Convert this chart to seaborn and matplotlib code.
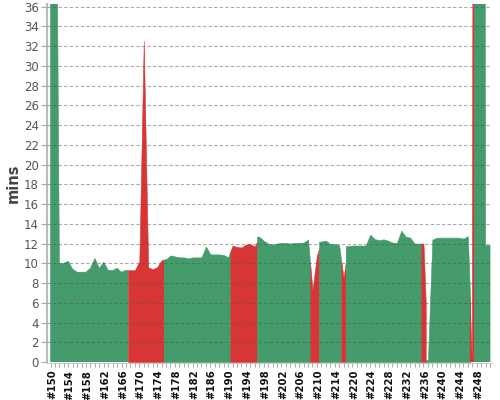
import numpy as np
import pandas as pd
import seaborn as sns
import matplotlib
matplotlib.use("Agg")
import matplotlib.pyplot as plt
import matplotlib.transforms as mtransforms
from matplotlib.ticker import FixedLocator, MultipleLocator

sns.set_theme(style="white")
plt.rcParams['font.family'] = ['DejaVu Sans']

# ---- data ----
builds = (list(range(150, 216)) + [217, 219] + list(range(220, 252)))
minutes = [
    300, 75, 10.0, 10.0, 10.2, 9.4, 9.1, 9.1, 9.1, 9.5,           # 150-159
    10.5, 9.5, 10.1, 9.3, 9.27, 9.5, 9.1, 9.3, 9.3, 9.3,          # 160-169
    10.2, 32.5, 9.6, 9.4, 9.6, 10.3, 10.4, 10.8, 10.7, 10.6,      # 170-179
    10.6, 10.5, 10.6, 10.6, 10.6, 11.7, 10.9, 10.9, 10.9, 10.85,  # 180-189
    10.6, 11.8, 11.65, 11.6, 11.9, 11.95, 11.7, 12.7, 12.3, 12.0,  # 190-199
    11.9, 12.0, 12.07, 12.07, 12.0, 12.07, 12.07, 12.1, 12.4, 7.3,  # 200-209
    10.8, 12.2, 12.3, 11.95, 11.95, 11.85,                        # 210-215
    8.5, 11.75,                                                   # 217, 219
    11.8, 11.8, 11.8, 11.8, 12.9, 12.45, 12.35, 12.43, 12.3, 12.1,  # 220-229
    12.07, 13.3, 12.7, 12.6, 12.0, 12.0, 12.0, 0.2, 12.4, 12.6,   # 230-239
    12.6, 12.6, 12.6, 12.6, 12.6, 12.5, 12.75, 0.2, 300, 400,     # 240-249
    11.8, 11.8,                                                   # 250-251
]
failed_builds = [168, 169, 170, 171, 172, 173, 174, 175,
                 191, 192, 193, 194, 195, 196,
                 209, 210, 217, 236, 247]
y_ticks = list(range(0, 37, 2))

GREEN = "#449b6b"
RED = "#d83536"

df = pd.DataFrame({"build": builds, "mins": minutes})
df["pos"] = np.arange(len(df))
df["failed"] = df["build"].isin(failed_builds)
df["label"] = "#" + df["build"].astype(str)

# ---- figure ----
fig = plt.figure(figsize=(5, 4), dpi=100)
ax = fig.add_axes([47 / 500, 38 / 400, 444.5 / 500, 358 / 400])

sns.lineplot(data=df, x="pos", y="mins", ax=ax, color=GREEN,
             linewidth=0, legend=False)

x = df["pos"].to_numpy(dtype=float)
v = df["mins"].to_numpy(dtype=float)
f = df["failed"].to_numpy()
n = len(x)

runs = []
cur = None
for j in range(n):
    xl = x[j] if j == 0 else x[j] - 0.5
    xr = x[j] if j == n - 1 else x[j] + 0.5
    if j == 0:
        L = v[j]
    elif (not f[j]) and f[j - 1]:
        L = v[j]
    else:
        L = (v[j - 1] + v[j]) / 2
    R = v[j] if j == n - 1 else (v[j] + v[j + 1]) / 2
    if cur is None or cur[0] != f[j]:
        cur = [f[j], [], []]
        runs.append(cur)
    cur[1].extend([xl, x[j], xr])
    cur[2].extend([L, v[j], R])

for failed, xs, ys in runs:
    col = RED if failed else GREEN
    ax.fill_between(xs, 0, ys, color=col, linewidth=0.4, edgecolor=col,
                    zorder=1)

# ---- axes styling ----
ax.set_xlim(-0.79, 99.32)
ax.set_ylim(0, 36.27)
ax.set_yticks(y_ticks)
ax.set_yticklabels([str(t) for t in y_ticks])
major = df.iloc[::4]
ax.xaxis.set_major_locator(FixedLocator(major["pos"].tolist()))
ax.set_xticklabels(major["label"].tolist())
ax.xaxis.set_minor_locator(MultipleLocator(1))

ax.set_axisbelow(False)
ax.yaxis.grid(True, linestyle=(0, (3, 2)), color="#555555",
              linewidth=0.8, alpha=0.5)
ax.xaxis.grid(False)

for s in ["top", "right"]:
    ax.spines[s].set_visible(False)
ax.spines["left"].set_color("#bbbbbb")
ax.spines["left"].set_linewidth(1.5)
ax.spines["bottom"].set_color("#cccccc")
ax.spines["bottom"].set_linewidth(0.8)
ax.spines["bottom"].set_position(("outward", 1))

ax.tick_params(axis="y", which="major", length=4, width=0.8,
               color="#aaaaaa", labelsize=8.5, labelcolor="#555555", pad=2,
               left=True)
ax.tick_params(axis="x", which="both", length=3, width=0.7,
               color="#aaaaaa", bottom=True)
ax.tick_params(axis="x", which="major", labelsize=7.3, labelcolor="#111111",
               pad=1.5, labelrotation=90)

shift = mtransforms.ScaledTranslation(1.5 / 100, 0, fig.dpi_scale_trans)
for lab in ax.get_xticklabels():
    lab.set_transform(lab.get_transform() + shift)
    lab.set_fontweight("bold")

ax.set_xlabel("")
ax.set_ylabel("mins", fontsize=10.5, fontweight="bold", color="#444444")
ax.yaxis.set_label_coords(-0.06, 0.5)

fig.savefig("out.png", dpi=100)
